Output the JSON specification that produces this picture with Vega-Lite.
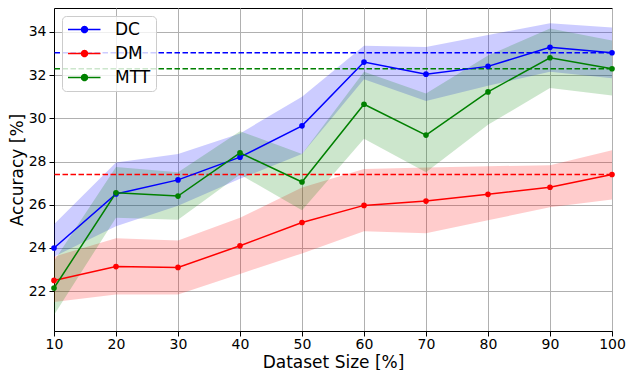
{
  "$schema": "https://vega.github.io/schema/vega-lite/v6.json",
  "width": 558,
  "height": 323,
  "autosize": "none",
  "padding": {"left": 54, "top": 8, "right": 14, "bottom": 39},
  "config": {
    "font": "DejaVu Sans",
    "view": {"stroke": "black", "strokeWidth": 1},
    "axis": {
      "domainColor": "black", "domainWidth": 1, "tickColor": "black", "tickSize": 5, "tickWidth": 1,
      "gridColor": "#b0b0b0", "gridWidth": 1, "gridOpacity": 1,
      "labelFontSize": 14, "labelColor": "black", "labelPadding": 3, "labelFlush": false, "labelOverlap": false,
      "titleFontSize": 17, "titleFontWeight": "normal", "titleColor": "black"
    }
  },
  "datasets": {
    "series": [
      {"size": 10, "method": "DC", "acc": 24.0, "lo": 23.6, "hi": 25.1},
      {"size": 20, "method": "DC", "acc": 26.5, "lo": 25.0, "hi": 27.95},
      {"size": 30, "method": "DC", "acc": 27.15, "lo": 25.95, "hi": 28.35},
      {"size": 40, "method": "DC", "acc": 28.2, "lo": 27.2, "hi": 29.3},
      {"size": 50, "method": "DC", "acc": 29.65, "lo": 28.35, "hi": 31.0},
      {"size": 60, "method": "DC", "acc": 32.6, "lo": 31.8, "hi": 33.35},
      {"size": 70, "method": "DC", "acc": 32.04, "lo": 30.8, "hi": 33.3},
      {"size": 80, "method": "DC", "acc": 32.4, "lo": 31.5, "hi": 33.85},
      {"size": 90, "method": "DC", "acc": 33.28, "lo": 32.15, "hi": 34.4},
      {"size": 100, "method": "DC", "acc": 33.03, "lo": 31.85, "hi": 34.2},
      {"size": 10, "method": "DM", "acc": 22.5, "lo": 21.5, "hi": 23.6},
      {"size": 20, "method": "DM", "acc": 23.14, "lo": 21.85, "hi": 24.45},
      {"size": 30, "method": "DM", "acc": 23.1, "lo": 21.85, "hi": 24.35},
      {"size": 40, "method": "DM", "acc": 24.1, "lo": 22.8, "hi": 25.4},
      {"size": 50, "method": "DM", "acc": 25.18, "lo": 23.75, "hi": 26.8},
      {"size": 60, "method": "DM", "acc": 25.97, "lo": 24.77, "hi": 27.65},
      {"size": 70, "method": "DM", "acc": 26.17, "lo": 24.68, "hi": 27.72},
      {"size": 80, "method": "DM", "acc": 26.48, "lo": 25.28, "hi": 27.78},
      {"size": 90, "method": "DM", "acc": 26.81, "lo": 25.88, "hi": 27.83},
      {"size": 100, "method": "DM", "acc": 27.4, "lo": 26.24, "hi": 28.52},
      {"size": 10, "method": "MTT", "acc": 22.15, "lo": 20.9, "hi": 23.4},
      {"size": 20, "method": "MTT", "acc": 26.55, "lo": 25.4, "hi": 27.75},
      {"size": 30, "method": "MTT", "acc": 26.4, "lo": 25.3, "hi": 27.5},
      {"size": 40, "method": "MTT", "acc": 28.4, "lo": 27.4, "hi": 29.4},
      {"size": 50, "method": "MTT", "acc": 27.05, "lo": 25.75, "hi": 28.35},
      {"size": 60, "method": "MTT", "acc": 30.65, "lo": 29.05, "hi": 32.15},
      {"size": 70, "method": "MTT", "acc": 29.22, "lo": 27.5, "hi": 31.15},
      {"size": 80, "method": "MTT", "acc": 31.22, "lo": 29.7, "hi": 32.9},
      {"size": 90, "method": "MTT", "acc": 32.8, "lo": 31.4, "hi": 34.15},
      {"size": 100, "method": "MTT", "acc": 32.29, "lo": 31.05, "hi": 33.6}
    ],
    "baselines": [
      {"method": "DC", "acc": 33.03},
      {"method": "DM", "acc": 27.4},
      {"method": "MTT", "acc": 32.29}
    ]
  },
  "layer": [
    {
      "data": {"name": "series"},
      "mark": {"type": "area", "fillOpacity": 0.2, "interpolate": "linear"},
      "encoding": {
        "x": {"field": "size", "type": "quantitative", "scale": {"domain": [10, 100], "nice": false},
              "axis": {"values": [10, 20, 30, 40, 50, 60, 70, 80, 90, 100], "title": "Dataset Size [%]", "labelPadding": 1, "titlePadding": 3}},
        "y": {"field": "lo", "type": "quantitative", "scale": {"domain": [20.16, 35.1], "nice": false, "zero": false},
              "axis": {"values": [22, 24, 26, 28, 30, 32, 34], "title": "Accuracy [%]", "titlePadding": 2}},
        "y2": {"field": "hi"},
        "color": {"field": "method", "type": "nominal"}
      }
    },
    {
      "data": {"name": "baselines"},
      "mark": {"type": "rule", "strokeDash": [5.5, 2.5], "strokeWidth": 1.5},
      "encoding": {
        "y": {"field": "acc", "type": "quantitative"},
        "color": {"field": "method", "type": "nominal"}
      }
    },
    {
      "data": {"name": "series"},
      "mark": {"type": "line", "strokeWidth": 1.5, "point": {"filled": true, "size": 32, "opacity": 1}},
      "encoding": {
        "x": {"field": "size", "type": "quantitative"},
        "y": {"field": "acc", "type": "quantitative"},
        "color": {"field": "method", "type": "nominal",
                  "scale": {"domain": ["DC", "DM", "MTT"], "range": ["#0000ff", "#ff0000", "#008000"]},
                  "legend": {
                    "title": null, "orient": "none", "legendX": 8, "legendY": 8,
                    "padding": 5, "fillColor": "rgba(255,255,255,0.8)", "strokeColor": "#cccccc", "cornerRadius": 4,
                    "symbolType": "M-1.07,0L3.57,0M0.857,0A0.4286,0.4286,0,1,0,1.714,0A0.4286,0.4286,0,1,0,0.857,0Z",
                    "symbolSize": 196, "symbolStrokeWidth": 1.5, "symbolOpacity": 1,
                    "labelFontSize": 17, "labelColor": "black", "labelOffset": 31, "rowPadding": 6,
                    "encode": {"symbols": {"update": {"fill": {"scale": "color", "field": "value"}, "stroke": {"scale": "color", "field": "value"}}}}
                  }}
      }
    }
  ]
}
